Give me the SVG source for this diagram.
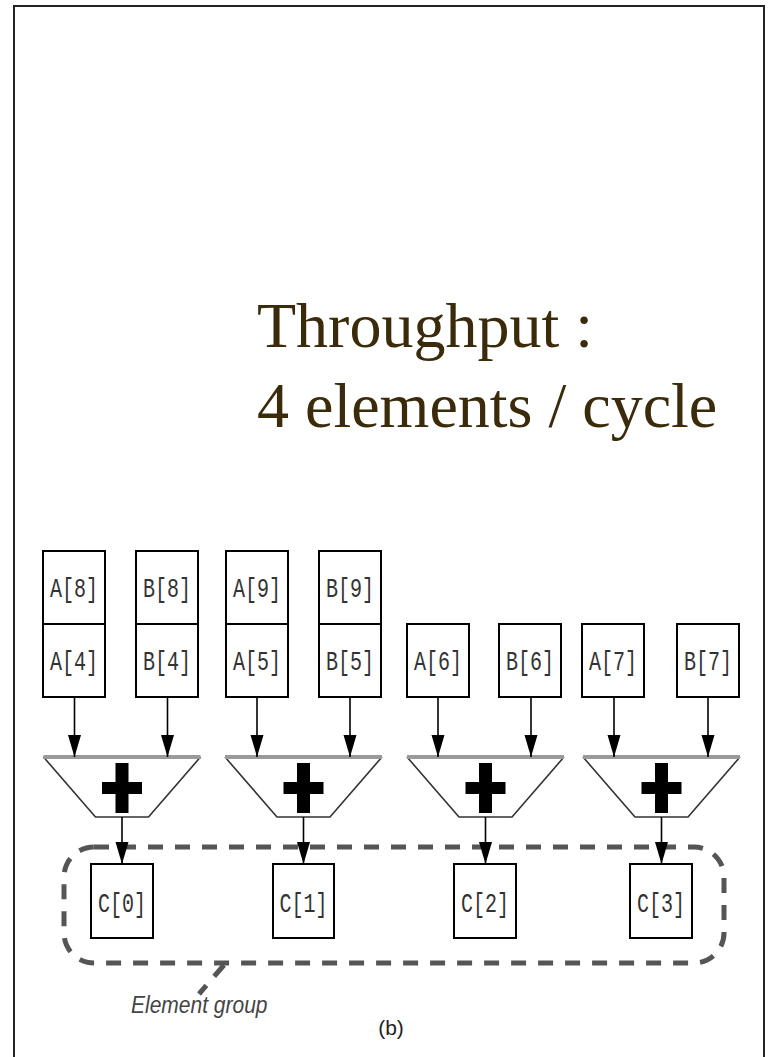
<svg xmlns="http://www.w3.org/2000/svg" width="769" height="1057" viewBox="0 0 769 1057">
  <defs>
    <marker id="ah" markerUnits="userSpaceOnUse" markerWidth="22" markerHeight="13" refX="22" refY="6.5" orient="auto" overflow="visible">
      <path d="M0,0 L22,6.5 L0,13 Z" fill="#000"/>
    </marker>
  </defs>
  <style>
    .box { fill: #fff; stroke: #000; stroke-width: 2; }
    .lbl { font-family: "Liberation Mono", "DejaVu Sans Mono", monospace; font-size: 20px; fill: #333; text-anchor: middle; }
    .trap { fill: #fff; stroke: #333; stroke-width: 1.6; stroke-linejoin: round; }
    .trap-top { stroke: #9a9a9a; stroke-width: 4; }
    .plus { fill: #000; }
    .wire { stroke: #000; stroke-width: 1.6; fill: none; marker-end: url(#ah); }
    .grp { fill: none; stroke: #555; stroke-width: 5; stroke-dasharray: 15 12; }
    .title { font-family: "Liberation Serif", "Times New Roman", serif; font-size: 64px; fill: #3b2b0b; }
  </style>

  <!-- page frame -->
  <rect x="14" y="6" width="750" height="1070" fill="#fff" stroke="#222" stroke-width="2"/>

  <!-- heading -->
  <g id="throughput">
    <text class="title" x="257" y="347">Throughput :</text>
    <text class="title" x="257" y="427">4 elements / cycle</text>
  </g>

  <!-- input operand registers -->
  <g id="a8"><rect class="box" x="43" y="551" width="62" height="73"/><text class="lbl" transform="translate(74,587.5) scale(1,1.4)" y="6.5">A[8]</text></g>
  <g id="a4"><rect class="box" x="43" y="624" width="62" height="73"/><text class="lbl" transform="translate(74,660.5) scale(1,1.4)" y="6.5">A[4]</text></g>
  <g id="b8"><rect class="box" x="136" y="551" width="62" height="73"/><text class="lbl" transform="translate(167,587.5) scale(1,1.4)" y="6.5">B[8]</text></g>
  <g id="b4"><rect class="box" x="136" y="624" width="62" height="73"/><text class="lbl" transform="translate(167,660.5) scale(1,1.4)" y="6.5">B[4]</text></g>
  <g id="a9"><rect class="box" x="226" y="551" width="62" height="73"/><text class="lbl" transform="translate(257,587.5) scale(1,1.4)" y="6.5">A[9]</text></g>
  <g id="a5"><rect class="box" x="226" y="624" width="62" height="73"/><text class="lbl" transform="translate(257,660.5) scale(1,1.4)" y="6.5">A[5]</text></g>
  <g id="b9"><rect class="box" x="319" y="551" width="62" height="73"/><text class="lbl" transform="translate(350,587.5) scale(1,1.4)" y="6.5">B[9]</text></g>
  <g id="b5"><rect class="box" x="319" y="624" width="62" height="73"/><text class="lbl" transform="translate(350,660.5) scale(1,1.4)" y="6.5">B[5]</text></g>
  <g id="a6"><rect class="box" x="407" y="624" width="62" height="73"/><text class="lbl" transform="translate(438,660.5) scale(1,1.4)" y="6.5">A[6]</text></g>
  <g id="b6"><rect class="box" x="499" y="624" width="62" height="73"/><text class="lbl" transform="translate(530,660.5) scale(1,1.4)" y="6.5">B[6]</text></g>
  <g id="a7"><rect class="box" x="582" y="624" width="62" height="73"/><text class="lbl" transform="translate(613,660.5) scale(1,1.4)" y="6.5">A[7]</text></g>
  <g id="b7"><rect class="box" x="677" y="624" width="62" height="73"/><text class="lbl" transform="translate(708,660.5) scale(1,1.4)" y="6.5">B[7]</text></g>

  <!-- adders -->
  <g id="add0">
    <path class="trap" d="M43.5,757 L95.5,817 L148.5,817 L200.5,757"/>
    <line class="trap-top" x1="43.5" y1="757" x2="200.5" y2="757"/>
    <rect class="plus" x="115.5" y="763" width="13" height="50"/><rect class="plus" x="102" y="782" width="40" height="12"/>
  </g>
  <g id="add1">
    <path class="trap" d="M225,757 L277,817 L330,817 L382,757"/>
    <line class="trap-top" x1="225" y1="757" x2="382" y2="757"/>
    <rect class="plus" x="297" y="763" width="13" height="50"/><rect class="plus" x="283.5" y="782" width="40" height="12"/>
  </g>
  <g id="add2">
    <path class="trap" d="M407,757 L459,817 L512,817 L564,757"/>
    <line class="trap-top" x1="407" y1="757" x2="564" y2="757"/>
    <rect class="plus" x="479" y="763" width="13" height="50"/><rect class="plus" x="465.5" y="782" width="40" height="12"/>
  </g>
  <g id="add3">
    <path class="trap" d="M583,757 L635,817 L688,817 L740,757"/>
    <line class="trap-top" x1="583" y1="757" x2="740" y2="757"/>
    <rect class="plus" x="655" y="763" width="13" height="50"/><rect class="plus" x="641.5" y="782" width="40" height="12"/>
  </g>

  <!-- result registers -->
  <g id="c0"><rect class="box" x="91" y="864" width="62" height="74"/><text class="lbl" transform="translate(122,903) scale(1,1.4)" y="6.5">C[0]</text></g>
  <g id="c1"><rect class="box" x="273" y="864" width="61" height="74"/><text class="lbl" transform="translate(303.5,903) scale(1,1.4)" y="6.5">C[1]</text></g>
  <g id="c2"><rect class="box" x="454" y="864" width="62" height="74"/><text class="lbl" transform="translate(485,903) scale(1,1.4)" y="6.5">C[2]</text></g>
  <g id="c3"><rect class="box" x="630" y="864" width="62" height="74"/><text class="lbl" transform="translate(661,903) scale(1,1.4)" y="6.5">C[3]</text></g>

  <!-- element group outline with its caption -->
  <g id="element-group">
    <rect class="grp" x="64" y="847" width="660" height="116" rx="30" ry="30"/>
    <line class="grp" stroke-width="4" x1="224" y1="965" x2="199" y2="994"/>
    <text x="131" y="1013" font-family="Liberation Sans, Arial, sans-serif" font-style="italic" font-size="21" fill="#444" transform="translate(131,1013) scale(1,1.1) translate(-131,-1013)">Element group</text>
  </g>

  <g id="caption">
    <text x="391" y="1035" font-family="Liberation Sans, Arial, sans-serif" font-size="21" fill="#222" text-anchor="middle">(b)</text>
  </g>

  <!-- connectors -->
  <g id="connectors">
    <line class="wire" x1="74.5" y1="697" x2="74.5" y2="757"/>
    <line class="wire" x1="167.5" y1="697" x2="167.5" y2="757"/>
    <line class="wire" x1="257" y1="697" x2="257" y2="757"/>
    <line class="wire" x1="350" y1="697" x2="350" y2="757"/>
    <line class="wire" x1="438" y1="697" x2="438" y2="757"/>
    <line class="wire" x1="531" y1="697" x2="531" y2="757"/>
    <line class="wire" x1="614" y1="697" x2="614" y2="757"/>
    <line class="wire" x1="708" y1="697" x2="708" y2="757"/>
    <line class="wire" x1="122" y1="817" x2="122" y2="864"/>
    <line class="wire" x1="303.5" y1="817" x2="303.5" y2="864"/>
    <line class="wire" x1="485.5" y1="817" x2="485.5" y2="864"/>
    <line class="wire" x1="661.5" y1="817" x2="661.5" y2="864"/>
  </g>
</svg>
